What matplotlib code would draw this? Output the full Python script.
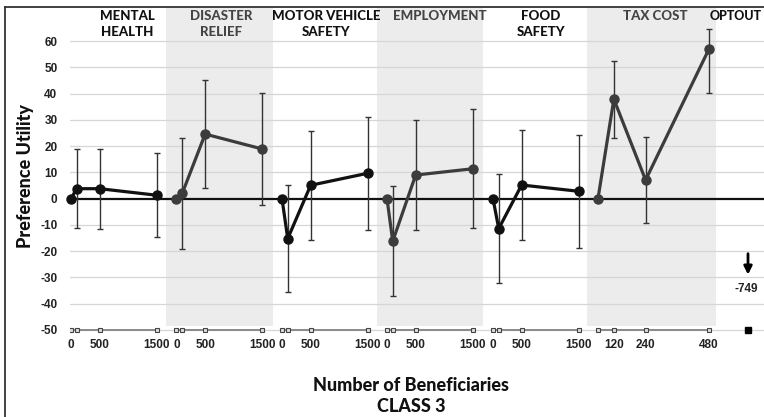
import numpy as np
import matplotlib.pyplot as plt

# attribute panels, left to right
panel_names = ["MENTAL\nHEALTH", "DISASTER\nRELIEF", "MOTOR VEHICLE\nSAFETY",
               "EMPLOYMENT", "FOOD\nSAFETY", "TAX COST"]
benefit_levels = [0, 100, 500, 1500]
tax_levels = [60, 120, 240, 480]
benefit_ticks = [0, 500, 1500]
tax_ticks = [120, 240, 480]

# preference utilities (class 3) and error half-widths
mental = [0, 3.8, 3.8, 1.3]
mental_err = [0, 15.0, 15.3, 16.0]
disaster = [0, 2.0, 24.6, 18.9]
disaster_err = [0, 21.0, 20.7, 21.3]
motor = [0, -15.2, 5.1, 9.7]
motor_err = [0, 20.5, 20.7, 21.5]
employment = [0, -16.2, 9.0, 11.4]
employment_err = [0, 21.0, 20.8, 22.7]
food = [0, -11.4, 5.2, 2.8]
food_err = [0, 20.8, 21.0, 21.4]
tax = [0, 37.9, 7.1, 57.1]
tax_err_low = [0, 14.7, 16.2, 17.0]
tax_err_high = [0, 14.7, 16.2, 7.7]
optout_value = -749

# layout: x axis works in "pixel-like" units
W, H = 764, 417
benefit_starts = [71, 176.5, 282, 387, 493]
benefit_scale = 0.0573
tax_origin = 582.1
tax_scale = 0.2646
optout_x = 748
shaded = [(166.5, 273.3), (377.3, 483.3), (587.3, 716)]
label_x = [127.5, 221.5, 325.8, 439.5, 541, 655]
YTOP, YBOT = 73, -52

BOLD = ["Lato", "DejaVu Sans"]
NUM = ["Liberation Sans", "DejaVu Sans"]

fig = plt.figure(figsize=(W / 100, H / 100), dpi=100)
bottom = 1 - 335.2 / H
ax = fig.add_axes([70 / W, bottom, 694 / W, (1 - 7 / H) - bottom])
ax.set_xlim(70, W)
ax.set_ylim(YBOT, YTOP)
for s in ax.spines.values():
    s.set_visible(False)

for x0, x1 in shaded:
    ax.fill_between([x0, x1], -48.5, YTOP, color="#ececec", lw=0, zorder=0)

for v in range(-50, 70, 10):
    if v == 0:
        continue
    ax.axhline(v, color="#d6d6d6", lw=0.9, zorder=1)
ax.axhline(0, color="#111111", lw=1.6, zorder=2)

series = [mental, disaster, motor, employment, food]
errs = [mental_err, disaster_err, motor_err, employment_err, food_err]
xt, xl = [], []
for i, (vals, e) in enumerate(zip(series, errs)):
    xs = benefit_starts[i] + benefit_scale * np.array(benefit_levels)
    col = "#3c3c3c" if i in (1, 3) else "#111111"
    ax.errorbar(xs[1:], vals[1:], yerr=e[1:], fmt="none", ecolor="#333333",
                elinewidth=1, capsize=2, capthick=1, zorder=3)
    ax.plot(xs, vals, "-o", color=col, lw=2.3, ms=6.5, zorder=4, clip_on=False)
    ax.plot(xs, [-50] * len(xs), "-s", color="#8a8a8a", lw=1.4, ms=3,
            mfc="#dddddd", mec="#444444", mew=0.8, zorder=3)
    for t in benefit_ticks:
        xt.append(benefit_starts[i] + benefit_scale * t)
        xl.append(str(t))

xs = tax_origin + tax_scale * np.array(tax_levels)
ax.errorbar(xs[1:], tax[1:], yerr=[tax_err_low[1:], tax_err_high[1:]], fmt="none",
            ecolor="#333333", elinewidth=1, capsize=2, capthick=1, zorder=3)
ax.plot(xs, tax, "-o", color="#3c3c3c", lw=2.3, ms=6.5, zorder=4)
ax.plot(xs, [-50] * len(xs), "-s", color="#8a8a8a", lw=1.4, ms=3,
        mfc="#dddddd", mec="#444444", mew=0.8, zorder=3)
for t in tax_ticks:
    xt.append(tax_origin + tax_scale * t)
    xl.append(str(t))

# optout
ax.plot([optout_x], [-50], "s", color="black", ms=4, zorder=4)
ax.annotate("", xy=(optout_x, -30), xytext=(optout_x, -19.9),
            arrowprops=dict(arrowstyle="-|>", color="black", lw=2,
                            mutation_scale=12))
ax.text(optout_x - 2, -34.3, str(optout_value), ha="center", va="center",
        fontsize=8.5, fontweight="bold", family=NUM, color="#222222")

ax.set_xticks(xt)
ax.set_xticklabels(xl, fontsize=8.5, fontweight="bold", family=NUM, color="#222222")
ax.set_yticks(range(-50, 70, 10))
ax.set_yticklabels([str(v) for v in range(-50, 70, 10)], fontsize=8.5,
                   fontweight="bold", family=NUM, color="#222222")
ax.tick_params(axis="both", length=0)
ax.tick_params(axis="x", pad=3)
ax.tick_params(axis="y", pad=9)

for i, (name, lx) in enumerate(zip(panel_names, label_x)):
    col = "#444444" if i in (1, 3, 5) else "#111111"
    fig.text(lx / W, 1 - 10 / H, name, ha="center", va="top", fontsize=9.5,
             fontweight="black", family=BOLD, color=col, linespacing=1.35)
fig.text(736 / W, 1 - 10 / H, "OPTOUT", ha="center", va="top", fontsize=9,
         fontweight="black", family=BOLD, color="#111111")

fig.text(25 / W, 1 - 176 / H, "Preference Utility", rotation=90, ha="center",
         va="center", fontsize=13, fontweight="black", family=BOLD, color="#111111")
fig.text(411 / W, 1 - 396 / H, "Number of Beneficiaries\nCLASS 3", ha="center",
         va="center", fontsize=13, fontweight="black", family=BOLD, color="#111111",
         linespacing=1.25)

# chart border (runs off the right and bottom of the image)
fig.add_artist(plt.Line2D([5 / W, 5 / W], [0, 1 - 7 / H], color="#333333", lw=1.3))
fig.add_artist(plt.Line2D([5 / W, 1], [1 - 7 / H, 1 - 7 / H], color="#333333", lw=1.3))

fig.savefig("out.png", dpi=100)
